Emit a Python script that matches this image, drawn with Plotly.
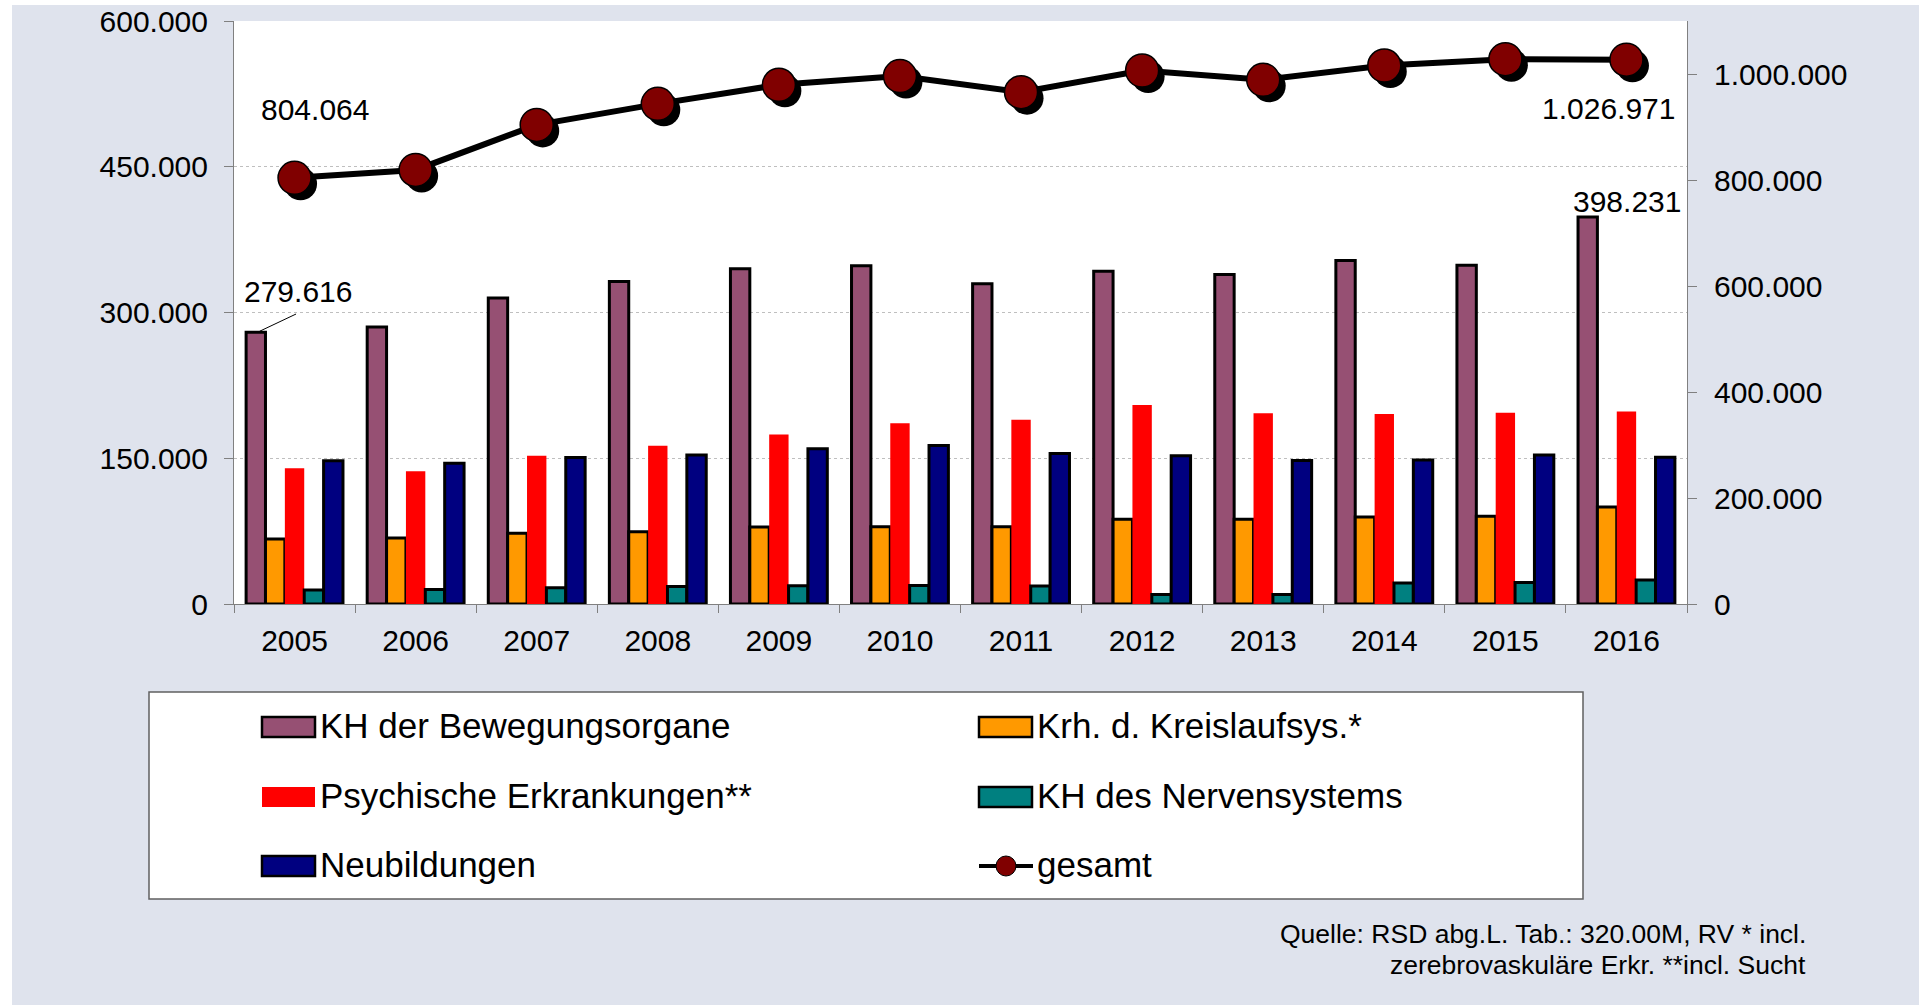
import plotly.graph_objects as go

# ---------------- data ----------------
years = ["2005", "2006", "2007", "2008", "2009", "2010",
         "2011", "2012", "2013", "2014", "2015", "2016"]

bewegung = [279616, 285000, 315000, 332000, 345000, 348000,
            329500, 342500, 339000, 353500, 348500, 398231]
kreislauf = [67000, 68000, 72700, 74400, 79200, 79500,
             79600, 87100, 87200, 89500, 90200, 99800]
psychisch = [139800, 136700, 152600, 162900, 174500, 185900,
             189700, 204700, 196200, 195500, 196900, 198200]
nerven = [14300, 15000, 16600, 18100, 18700, 19100,
          18400, 9800, 9800, 21500, 22200, 24600]
neubildungen = [147300, 144900, 150700, 153400, 159900, 163000,
                154800, 152700, 147600, 148300, 153400, 151100]
gesamt = [804064, 819000, 904000, 943700, 979600, 996000,
          965800, 1006600, 989000, 1016000, 1028000, 1026971]

left_ticks = [0, 150000, 300000, 450000, 600000]
right_ticks = [0, 200000, 400000, 600000, 800000, 1000000]

series_names = ["KH der Bewegungsorgane", "Krh. d. Kreislaufsys.*",
                "Psychische Erkrankungen**", "KH des Nervensystems",
                "Neubildungen", "gesamt"]
series_colors = ["#965073", "#FF9900", "#FF0000", "#008080", "#000080", "#800000"]
source_lines = ["Quelle: RSD abg.L. Tab.: 320.00M, RV * incl.",
                "zerebrovaskuläre Erkr. **incl. Sucht"]

# ---------------- layout geometry ----------------
W, H = 1919, 1005
L, R, T, B = 234, 232, 21, 401
PW, PH = W - L - R, H - T - B
FONT = "Liberation Sans, Arial, sans-serif"
BG = "#DFE3ED"
LEFT_MAX = 600000
RIGHT_MAX = 1100000


def px(x):
    return (x - L) / PW


def py(y):
    return 1 - (y - T) / PH


def de(v):
    return f"{v:,}".replace(",", ".")


fig = go.Figure()

bar_values = [bewegung, kreislauf, psychisch, nerven, neubildungen]
for i, vals in enumerate(bar_values):
    outline = 0 if i == 2 else 3
    fig.add_trace(go.Bar(
        x=years, y=vals, name=series_names[i],
        marker=dict(color=series_colors[i],
                    line=dict(color="black", width=outline)),
        xaxis="x", yaxis="y", showlegend=False,
    ))

# shadow of the markers (shifted overlay axes)
shift_px = 6
dx = shift_px / (PW / len(years))
dy = shift_px * RIGHT_MAX / PH
fig.add_trace(go.Scatter(
    x=years, y=gesamt, mode="markers",
    marker=dict(size=33, color="black"),
    xaxis="x2", yaxis="y3", showlegend=False, hoverinfo="skip",
))
fig.add_trace(go.Scatter(
    x=years, y=gesamt, mode="lines+markers", name=series_names[5],
    line=dict(color="black", width=6),
    marker=dict(size=33, color=series_colors[5], line=dict(color="black", width=1.5)),
    xaxis="x3", yaxis="y4", showlegend=False,
))

tickfont = dict(family=FONT, size=30, color="black")
axis_line = "#808080"

fig.update_layout(
    width=W, height=H,
    margin=dict(l=L, r=R, t=T, b=B, pad=0, autoexpand=False),
    paper_bgcolor=BG, plot_bgcolor="white",
    separators=",.",
    barmode="group", bargap=0.2, bargroupgap=0,
    showlegend=False,
    font=dict(family=FONT, color="black"),
    xaxis=dict(type="category", categoryarray=years, range=[-0.5, 11.5],
               tickson="boundaries", ticks="outside", ticklen=8,
               tickcolor=axis_line, showline=True, linecolor=axis_line, linewidth=1,
               showgrid=False, tickfont=tickfont, ticklabelstandoff=10,
               automargin=False),
    yaxis=dict(range=[0, LEFT_MAX], tickvals=left_ticks, tickformat=",d",
               ticks="outside", ticklen=9, tickcolor=axis_line,
               showline=True, linecolor=axis_line, linewidth=1,
               showgrid=True, gridcolor="#BFBFBF", griddash="dot", gridwidth=1,
               zeroline=False, tickfont=tickfont, ticklabelstandoff=10,
               automargin=False),
    yaxis2=dict(range=[0, RIGHT_MAX], tickvals=right_ticks, tickformat=",d",
                overlaying="y", side="right", anchor="x",
                ticks="outside", ticklen=9, tickcolor=axis_line,
                showline=True, linecolor=axis_line, linewidth=1,
                showgrid=False, zeroline=False, tickfont=tickfont,
                ticklabelstandoff=11, automargin=False),
    xaxis2=dict(type="category", categoryarray=years,
                range=[-0.5 - dx, 11.5 - dx], overlaying="x", visible=False,
                automargin=False),
    yaxis3=dict(range=[dy, RIGHT_MAX + dy], overlaying="y", visible=False,
                automargin=False),
    xaxis3=dict(type="category", categoryarray=years,
                range=[-0.5, 11.5], overlaying="x", visible=False,
                automargin=False),
    yaxis4=dict(range=[0, RIGHT_MAX], overlaying="y", visible=False,
                automargin=False),
)

shapes = []
# white outer strips
shapes.append(dict(type="rect", xref="paper", yref="paper",
                   x0=px(0), x1=px(12), y0=py(H), y1=py(0),
                   fillcolor="white", line=dict(width=0), layer="above"))
shapes.append(dict(type="rect", xref="paper", yref="paper",
                   x0=px(0), x1=px(W), y0=py(5), y1=py(0),
                   fillcolor="white", line=dict(width=0), layer="above"))
# legend box
shapes.append(dict(type="rect", xref="paper", yref="paper",
                   x0=px(149), x1=px(1583), y0=py(899), y1=py(692),
                   fillcolor="white", line=dict(color="#606060", width=1.5),
                   layer="above"))

annotations = []
col_x = [262, 979]
row_y = [727, 797, 866]
legend_font = dict(family=FONT, size=35, color="black")
for i, name in enumerate(series_names):
    r, c = divmod(i, 2)
    x0 = col_x[c]
    yc = row_y[r]
    if i < 5:
        lw = 0 if i == 2 else 2.5
        shapes.append(dict(type="rect", xref="paper", yref="paper",
                           x0=px(x0), x1=px(x0 + 53), y0=py(yc + 10), y1=py(yc - 10),
                           fillcolor=series_colors[i],
                           line=dict(color="black", width=lw), layer="above"))
    else:
        shapes.append(dict(type="line", xref="paper", yref="paper",
                           x0=px(x0), x1=px(x0 + 54), y0=py(yc), y1=py(yc),
                           line=dict(color="black", width=4), layer="above"))
        shapes.append(dict(type="circle", xref="paper", yref="paper",
                           x0=px(x0 + 17), x1=px(x0 + 37), y0=py(yc + 10), y1=py(yc - 10),
                           fillcolor=series_colors[5],
                           line=dict(color="black", width=1), layer="above"))
    annotations.append(dict(xref="paper", yref="paper", x=px(x0 + 56), y=py(yc - 2),
                            xanchor="left", yanchor="middle", text=name,
                            showarrow=False, font=legend_font))

# source text
src_font = dict(family=FONT, size=26.5, color="black")
for line_text, yc in zip(source_lines, [934, 965]):
    annotations.append(dict(xref="paper", yref="paper", x=px(1808), y=py(yc),
                            xanchor="right", yanchor="middle", text=line_text,
                            showarrow=False, font=src_font))

label_font = dict(family=FONT, size=30, color="black")
first, last = 0, len(years) - 1   # category indices
# data labels
annotations.append(dict(xref="x", yref="y2", x=first, y=gesamt[first],
                        text=de(gesamt[first]), showarrow=False, font=label_font,
                        xanchor="center", yanchor="middle", xshift=20, yshift=68))
annotations.append(dict(xref="x", yref="y2", x=last, y=gesamt[last],
                        text=de(gesamt[last]), showarrow=False, font=label_font,
                        xanchor="right", yanchor="middle", xshift=51, yshift=-49))
annotations.append(dict(xref="x", yref="y", x=first, y=bewegung[first],
                        text=de(bewegung[first]), showarrow=False, font=label_font,
                        xanchor="center", yanchor="middle", xshift=3, yshift=41))
annotations.append(dict(xref="x", yref="y", x=first, y=bewegung[first],
                        text=" ", showarrow=True, arrowhead=0, arrowwidth=1,
                        arrowcolor="black", ax=38, ay=-18, standoff=0,
                        font=dict(size=1), xshift=-35, yshift=1))
annotations.append(dict(xref="x", yref="y", x=last, y=bewegung[last],
                        text=de(bewegung[last]), showarrow=False, font=label_font,
                        xanchor="center", yanchor="middle", xshift=1, yshift=16))

fig.update_layout(shapes=shapes, annotations=annotations)

fig.write_html("out.html",
               config={"displayModeBar": False},
               post_script="document.body.style.margin='0';"
                           "document.body.style.overflow='hidden';")
